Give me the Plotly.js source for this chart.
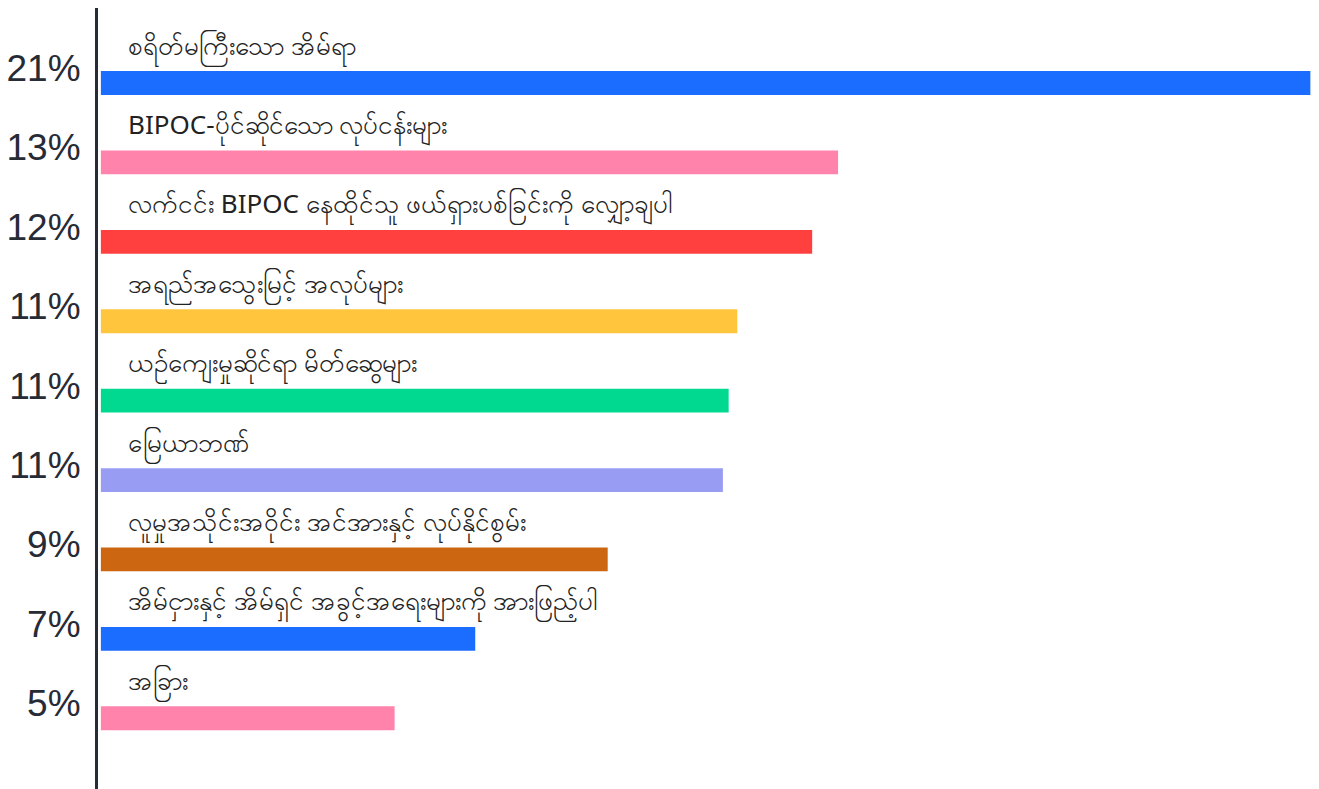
<!DOCTYPE html>
<html>
<head>
<meta charset="utf-8">
<script src="https://cdn.plot.ly/plotly-3.0.1.min.js"></script>
<style>html,body{margin:0;padding:0;background:#fff;}#chart{width:1319px;height:789px;}</style>
</head>
<body>
<div id="chart"></div>
<script>
const categories = [
  "စရိတ်မကြီးသော အိမ်ရာ",
  "BIPOC-ပိုင်ဆိုင်သော လုပ်ငန်းများ",
  "လက်ငင်း BIPOC နေထိုင်သူ ဖယ်ရှားပစ်ခြင်းကို လျှော့ချပါ",
  "အရည်အသွေးမြင့် အလုပ်များ",
  "ယဉ်ကျေးမှုဆိုင်ရာ မိတ်ဆွေများ",
  "မြေယာဘဏ်",
  "လူမှုအသိုင်းအဝိုင်း အင်အားနှင့် လုပ်နိုင်စွမ်း",
  "အိမ်ငှားနှင့် အိမ်ရှင် အခွင့်အရေးများကို အားဖြည့်ပါ",
  "အခြား"
];
const values = [21, 12.8, 12.35, 11.05, 10.9, 10.8, 8.8, 6.5, 5.1];
const pctLabels = ["21%", "13%", "12%", "11%", "11%", "11%", "9%", "7%", "5%"];
const colors = ["#1b6dff", "#ff83ab", "#ff403f", "#ffc53c", "#00d98f", "#989cf3", "#cc6610", "#1b6dff", "#ff83ab"];

const idx = categories.map((_, i) => i);

const trace = {
  type: "bar",
  orientation: "h",
  x: values,
  y: idx,
  base: 0,
  width: 0.30,
  marker: {color: colors, line: {width: 0}},
  hoverinfo: "skip"
};

const annotations = categories.map((c, i) => ({
  xref: "x", yref: "y",
  x: 0, y: i - 0.46,
  xshift: 25,
  xanchor: "left", yanchor: "middle",
  text: c,
  showarrow: false,
  font: {family: "Noto Sans, sans-serif", size: 26, color: "#222222"}
}));

const layout = {
  width: 1319, height: 789,
  margin: {l: 98, r: 0, t: 8, b: 0, pad: 0},
  paper_bgcolor: "#ffffff",
  plot_bgcolor: "#ffffff",
  showlegend: false,
  xaxis: {
    range: [-0.05, 21.15],
    visible: false,
    fixedrange: true
  },
  yaxis: {
    range: [8.891, -0.945],
    tickmode: "array",
    tickvals: idx.map(i => i - 0.19),
    ticktext: pctLabels,
    ticks: "",
    showgrid: false,
    zeroline: false,
    showline: true,
    linecolor: "#262b36",
    linewidth: 3,
    ticklabelstandoff: 7,
    tickfont: {family: "Liberation Sans, Arial, sans-serif", size: 37, color: "#262b36"},
    fixedrange: true
  },
  annotations: annotations
};

Plotly.newPlot("chart", [trace], layout, {displayModeBar: false, staticPlot: true});
</script>
</body>
</html>
